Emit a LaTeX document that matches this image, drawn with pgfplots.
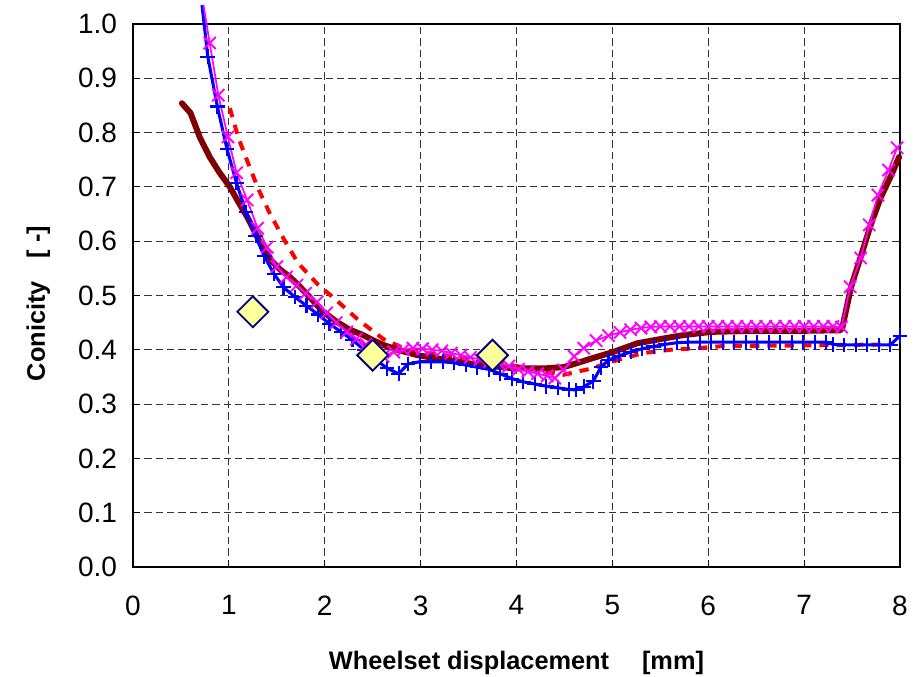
\documentclass[border=0pt]{standalone}
\usepackage{pgfplots}
\pgfplotsset{compat=1.18}
\usepackage{pgfplotstable}
\usepackage{fontspec}
\setmainfont{Liberation Sans}

\definecolor{maroon}{HTML}{800000}
\definecolor{dia}{HTML}{FFFF99}
\definecolor{navy}{HTML}{000080}
\definecolor{pblue}{HTML}{0000FF}
\definecolor{pred}{HTML}{FF0000}
\definecolor{pmag}{HTML}{FF00FF}

\pgfplotstableread{
x y
0.51 0.854
0.60 0.836
0.70 0.790
0.80 0.755
0.90 0.727
1.01 0.700
1.10 0.672
1.19 0.645
1.28 0.614
1.36 0.584
1.45 0.563
1.54 0.547
1.63 0.535
1.72 0.520
1.80 0.505
1.88 0.490
1.97 0.472
2.06 0.460
2.13 0.451
2.25 0.438
2.40 0.427
2.50 0.418
2.61 0.409
2.76 0.400
2.97 0.390
3.28 0.381
3.62 0.372
3.97 0.366
4.32 0.366
4.49 0.368
4.64 0.376
4.80 0.385
5.01 0.396
5.26 0.412
5.54 0.421
5.74 0.427
6.03 0.433
6.50 0.435
7.00 0.435
7.38 0.436
7.40 0.442
7.49 0.516
7.59 0.571
7.70 0.633
7.80 0.681
7.91 0.722
7.99 0.755
}\maroondata

\pgfplotstableread{
x y
1.01 0.845
1.10 0.790
1.20 0.744
1.31 0.695
1.43 0.650
1.57 0.605
1.72 0.560
1.93 0.520
2.13 0.490
2.35 0.455
2.61 0.420
2.86 0.400
3.00 0.395
3.50 0.385
4.00 0.370
4.30 0.360
4.49 0.354
4.77 0.365
5.05 0.381
5.32 0.394
5.60 0.400
5.89 0.403
6.16 0.407
7.00 0.408
7.90 0.410
}\reddata

\pgfplotstableread{
x y
0.78 0.940
0.88 0.848
0.98 0.770
1.08 0.707
1.18 0.654
1.28 0.610
1.37 0.572
1.47 0.540
1.57 0.515
1.69 0.497
1.81 0.481
1.93 0.465
2.05 0.448
2.17 0.433
2.29 0.418
2.41 0.400
2.53 0.382
2.65 0.366
2.77 0.356
2.87 0.374
2.99 0.378
3.11 0.378
3.23 0.378
3.35 0.376
3.47 0.372
3.59 0.368
3.71 0.364
3.83 0.356
3.95 0.347
4.07 0.341
4.19 0.337
4.31 0.333
4.43 0.330
4.55 0.327
4.62 0.326
4.70 0.332
4.80 0.342
4.88 0.368
4.96 0.381
5.07 0.389
5.19 0.396
5.31 0.402
5.43 0.406
5.55 0.410
5.67 0.413
5.79 0.414
5.91 0.414
6.03 0.414
6.15 0.414
6.27 0.414
6.39 0.414
6.51 0.414
6.63 0.414
6.75 0.414
6.87 0.414
6.99 0.414
7.11 0.414
7.23 0.414
7.30 0.410
7.42 0.409
7.54 0.409
7.66 0.409
7.78 0.409
7.90 0.409
8.00 0.426
}\bluedata

\pgfplotstableread{
x y
0.80 0.965
0.89 0.869
0.99 0.792
1.08 0.726
1.19 0.676
1.30 0.624
1.40 0.589
1.50 0.553
1.60 0.534
1.71 0.519
1.80 0.504
1.92 0.488
2.02 0.468
2.12 0.450
2.23 0.433
2.33 0.420
2.43 0.410
2.53 0.396
2.61 0.388
2.72 0.396
2.82 0.400
2.92 0.403
3.02 0.402
3.12 0.400
3.22 0.398
3.32 0.394
3.42 0.390
3.52 0.386
3.62 0.382
3.72 0.378
3.82 0.374
3.92 0.370
4.02 0.364
4.12 0.360
4.22 0.356
4.32 0.352
4.40 0.348
4.49 0.363
4.60 0.388
4.70 0.403
4.83 0.417
4.96 0.426
5.08 0.432
5.19 0.437
5.30 0.440
5.40 0.442
5.50 0.443
5.60 0.443
5.70 0.443
5.80 0.443
5.90 0.443
6.00 0.443
6.10 0.443
6.20 0.443
6.30 0.443
6.40 0.443
6.50 0.443
6.60 0.443
6.70 0.443
6.80 0.443
6.90 0.443
7.00 0.443
7.10 0.443
7.20 0.443
7.30 0.443
7.39 0.442
7.48 0.516
7.59 0.569
7.68 0.630
7.77 0.685
7.88 0.731
7.97 0.772
}\magentadata

\begin{document}
\begin{tikzpicture}
\begin{axis}[
  at={(0,0)}, anchor=origin,
  scale only axis, width=575.25pt, height=407.25pt,
  xmin=0, xmax=8, ymin=0, ymax=1,
  clip=false,
  xtick={0,1,2,3,4,5,6,7,8},
  xticklabels={0,1,2,3,4,5,6,7,8},
  ytick={0,0.1,0.2,0.3,0.4,0.5,0.6,0.7,0.8,0.9,1.0},
  yticklabels={0.0,0.1,0.2,0.3,0.4,0.5,0.6,0.7,0.8,0.9,1.0},
  tick label style={font=\fontsize{21}{24}\selectfont},
  xticklabel style={yshift=-18pt},
  yticklabel style={xshift=-8.5pt},
  tick align=inside, xtick pos=bottom, ytick pos=left,
  major tick length=5pt,
  tick style={black, line width=0.8pt},
  axis line style={black, line width=1.3pt},
  grid=major,
  major grid style={black!80, line width=0.8pt, dash pattern=on 5.5pt off 3pt},
  xlabel={\textbf{Wheelset displacement\hspace{1.3em}[mm]}},
  ylabel={\textbf{Conicity\hspace{0.9em}[ -]}},
  label style={font=\fontsize{19}{22}\selectfont},
  xlabel style={at={(axis description cs:0.5,0)}, anchor=center, yshift=-72pt},
  ylabel style={at={(axis description cs:0,0.485)}, anchor=center, yshift=71pt},
]
% red dashed
\addplot[color=pred, line width=3pt, dash pattern=on 7pt off 6pt] table {\reddata};
% maroon thick
\addplot[color=maroon, line width=4.5pt, line join=round, line cap=round] table {\maroondata};
% blue line + markers
\addplot[color=pblue, line width=2.3pt, line join=round, no markers] table {\bluedata};
\addplot[color=pblue, line width=2.3pt, no markers] coordinates {(0.72,1.035) (0.78,0.940)};
\addplot[color=pblue, only marks, mark=+, mark size=5.5pt, mark options={line width=1.6pt}] table {\bluedata};
% magenta line x markers
\addplot[color=pmag, line width=1.3pt, no markers] coordinates {(0.735,1.035) (0.80,0.965)};
\addplot[color=pmag, line width=1.3pt, mark=x, mark size=6.5pt, mark options={line width=1.4pt}] table {\magentadata};
% diamonds
\addplot[only marks, mark=square*, mark size=8.2pt, mark options={rotate=45, fill=dia, draw=navy, line width=1.4pt}] coordinates {(1.25,0.47) (2.5,0.39) (3.75,0.39)};
\end{axis}
\pgfresetboundingbox
\path (-99.75pt,-82.5pt) rectangle (587.25pt,425.25pt);
\end{tikzpicture}
\end{document}
